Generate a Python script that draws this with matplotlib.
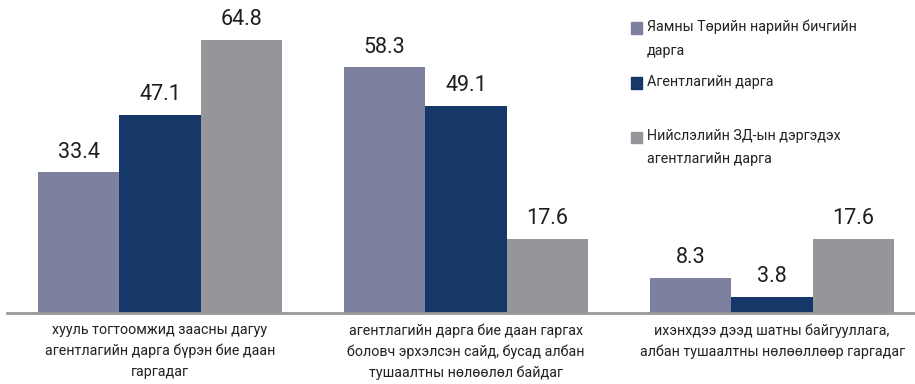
import numpy as np
import matplotlib.pyplot as plt
from matplotlib.patches import Rectangle
from matplotlib.transforms import blended_transform_factory

categories = [
    "хууль тогтоомжид заасны дагуу\nагентлагийн дарга бүрэн бие даан\nгаргадаг",
    "агентлагийн дарга бие даан гаргах\nболовч эрхэлсэн сайд, бусад албан\nтушаалтны нөлөөлөл байдаг",
    "ихэнхдээ дээд шатны байгууллага,\nалбан тушаалтны нөлөөллөөр гаргадаг",
]
series_names = [
    "Яамны Төрийн нарийн бичгийн\nдарга",
    "Агентлагийн дарга",
    "Нийслэлийн ЗД-ын дэргэдэх\nагентлагийн дарга",
]
values = [
    [33.4, 58.3, 8.3],
    [47.1, 49.1, 3.8],
    [64.8, 17.6, 17.6],
]
colors = ["#7e80a0", "#163868", "#959699"]

plt.rcParams["font.family"] = ["Roboto", "DejaVu Sans"]

fig = plt.figure(figsize=(9.15, 3.84), dpi=100)
ax = fig.add_axes([7 / 915, 71 / 384, 908 / 915, 313 / 384])

x = np.arange(len(categories))
width = 0.266
for i, (name, vals) in enumerate(zip(series_names, values)):
    pos = x + (i - 1) * width
    bars = ax.bar(pos, vals, width, color=colors[i], edgecolor="none")
    for b, v in zip(bars, vals):
        ax.text(b.get_x() + b.get_width() / 2, v + 2.3, f"{v:.1f}",
                ha="center", va="bottom", fontsize=15.5, color="#1e1e1e")

ax.set_xlim(-0.5, 2.467)
ax.set_ylim(0, 74.3)
for s in ["top", "left", "right"]:
    ax.spines[s].set_visible(False)
ax.spines["bottom"].set_color("#999999")
ax.spines["bottom"].set_linewidth(2)
ax.set_xticks([])
ax.set_yticks([])

trans = blended_transform_factory(ax.transData, fig.transFigure)
for xi, cat in zip(x, categories):
    ax.text(xi, 1 - 323 / 384, cat, transform=trans, ha="center", va="top",
            fontsize=10.3, color="#222222", linespacing=1.6)

# legend
leg_y = [28, 83, 137]
for name, c, yy in zip(series_names, colors, leg_y):
    fig.patches.append(Rectangle((631 / 915, 1 - (yy + 5.5) / 384), 11 / 915, 11 / 384,
                                 transform=fig.transFigure, color=c, figure=fig))
    fig.text(647 / 915, 1 - (yy - 8) / 384, name, ha="left", va="top",
             fontsize=10.3, color="#222222", linespacing=1.85)

fig.savefig("out.png", dpi=100)
